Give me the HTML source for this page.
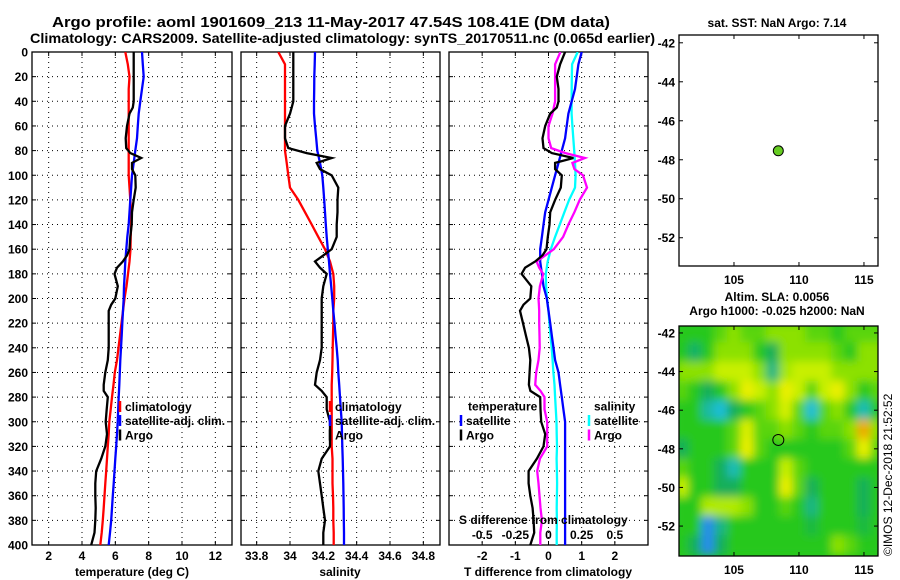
<!DOCTYPE html>
<html><head><meta charset="utf-8"><style>
html,body{margin:0;padding:0;background:#fff;}
svg{display:block;font-family:"Liberation Sans",sans-serif;font-weight:bold;}
</style></head><body>
<svg id="root" width="900" height="580" viewBox="0 0 900 580" xmlns="http://www.w3.org/2000/svg">
<defs>
<filter id="blur" x="-10%" y="-10%" width="120%" height="120%"><feGaussianBlur stdDeviation="4.5"/></filter>
<clipPath id="clipMap2"><rect x="679" y="326" width="199" height="230"/></clipPath>
<clipPath id="clipP1"><rect x="32" y="52" width="200" height="493"/></clipPath>
<clipPath id="clipP2"><rect x="241" y="52" width="199" height="493"/></clipPath>
<clipPath id="clipP3"><rect x="449" y="52" width="199" height="493"/></clipPath>
</defs>
<text x="331" y="27" font-size="14.5" text-anchor="middle" textLength="558" lengthAdjust="spacingAndGlyphs">Argo profile: aoml 1901609_213 11-May-2017 47.54S 108.41E (DM data)</text>
<text x="30" y="43" font-size="14" textLength="625" lengthAdjust="spacingAndGlyphs">Climatology: CARS2009. Satellite-adjusted climatology: synTS_20170511.nc (0.065d earlier)</text>
<text x="777" y="27" font-size="12" text-anchor="middle">sat. SST: NaN Argo: 7.14</text>
<text x="777" y="301" font-size="12" text-anchor="middle">Altim. SLA: 0.0056</text>
<text x="777" y="315" font-size="12" text-anchor="middle">Argo h1000: -0.025 h2000: NaN</text>
<text transform="translate(892,556) rotate(-90)" font-size="12" font-weight="normal">©IMOS 12-Dec-2018 21:52:52</text>
<g id="g"></g>
</svg>
<script>
// ---- data ----
const depth = [0,10,20,30,40,50,60,70,80,90,100,110,120,130,140,150,160,170,180,190,200,210,220,230,240,250,260,270,280,290,300,310,320,330,340,350,360,370,380,390,400];
const tempClim = [6.6,6.75,6.85,6.8,6.8,6.8,6.8,6.8,6.8,6.8,6.8,6.85,6.9,6.95,6.95,6.92,6.91,6.85,6.76,6.67,6.55,6.46,6.37,6.28,6.19,6.1,5.97,5.89,5.8,5.72,5.64,5.6,5.55,5.5,5.45,5.4,5.35,5.3,5.25,5.18,5.1];
const tempSat = [7.6,7.65,7.7,7.6,7.5,7.4,7.35,7.3,7.2,7.1,7.0,6.95,6.9,6.85,6.8,6.72,6.66,6.6,6.56,6.52,6.5,6.46,6.42,6.38,6.34,6.3,6.27,6.24,6.2,6.17,6.14,6.1,6.05,6.0,5.95,5.9,5.85,5.8,5.75,5.68,5.6];
const salClim = [33.93,33.97,33.97,33.97,33.97,33.97,33.97,33.97,33.97,33.98,33.99,34.0,34.05,34.09,34.13,34.17,34.21,34.24,34.26,34.265,34.265,34.26,34.26,34.258,34.256,34.255,34.253,34.25,34.25,34.25,34.25,34.25,34.25,34.255,34.255,34.255,34.258,34.26,34.26,34.262,34.262];
const salSat = [34.15,34.148,34.146,34.145,34.144,34.144,34.15,34.157,34.164,34.18,34.194,34.2,34.205,34.21,34.215,34.22,34.227,34.234,34.24,34.247,34.254,34.26,34.267,34.273,34.28,34.286,34.29,34.295,34.3,34.305,34.31,34.312,34.314,34.316,34.318,34.32,34.321,34.322,34.323,34.324,34.324];
const argoDepth = [0,10,20,30,40,45,50,60,70,78,82,86,90,95,100,110,120,130,140,150,160,165,170,175,180,190,200,205,210,220,230,240,250,260,270,275,280,290,300,310,320,330,340,350,360,370,380,390,400];
const argoTemp = [7.1,7.1,7.1,7.1,7.1,7.05,6.85,6.7,6.62,6.65,6.9,7.55,7.0,7.0,7.2,7.22,7.1,7.0,6.98,6.9,6.85,6.7,6.45,6.1,5.95,6.15,6.0,5.75,5.6,5.6,5.6,5.6,5.55,5.4,5.3,5.3,5.55,5.48,5.42,5.5,5.4,5.15,4.85,4.8,4.8,4.82,4.8,4.75,4.55];
const argoSal = [34.02,34.02,34.02,34.02,34.02,34.01,34.0,33.97,33.97,33.99,34.1,34.25,34.16,34.18,34.25,34.29,34.285,34.285,34.28,34.28,34.25,34.2,34.15,34.18,34.22,34.2,34.19,34.19,34.19,34.19,34.19,34.19,34.18,34.16,34.15,34.19,34.22,34.22,34.24,34.24,34.24,34.19,34.17,34.18,34.19,34.2,34.21,34.2,34.2];
const depthTicks = [0,20,40,60,80,100,120,140,160,180,200,220,240,260,280,300,320,340,360,380,400];
const tempTicks = [2,4,6,8,10,12];
const salTicks = [33.8,34,34.2,34.4,34.6,34.8];
const salTickLabels = ["33.8","34","34.2","34.4","34.6","34.8"];
const diffTicks = [-2,-1,0,1,2];
const sDiffTicks = [-0.5,-0.25,0,0.25,0.5];
const latTicks = [-42,-44,-46,-48,-50,-52];
const lonTicks = [105,110,115];
const argoLon = 108.41, argoLat = -47.54;
const slaLats = [-42,-43,-44,-45,-46,-47,-48,-49,-50,-51,-52,-53];
const slaLons = [101,102,103,104,105,106,107,108,109,110,111,112,113,114,115,116];
const slaGrid = [
[0,0,0,0.5,1,0.5,0.5,1,1,1,0.5,0.5,0,0.5,0.5,0.5],
[0,-0.6,0,1,1,1,0,-0.5,1,1,1,1,0.5,0,1,1],
[1,1,1,1.5,1.5,1.5,1,-0.8,1.2,1.5,1.5,1.5,1,1,1,1],
[0.5,0,-0.5,0,1,2,1.5,1,2,1.5,0.5,1.5,2,1,0,0.5],
[0,0,-1,-1.5,-0.5,0,0.5,1,1.7,0.5,-1.5,0.5,1,0,-1.2,0],
[0,0,0,0,0.5,1.8,0.5,0.5,1,0.5,0,0.5,0.5,1,2.7,1],
[-0.5,0,0,0,0.5,2,0.5,0,0,0,0,0,0,0.5,2,0.5],
[0.5,0,0,-0.5,-1.2,0,0,0,1.5,0.5,0,0,0,0,0,0],
[1.5,0,0,-0.5,-0.5,0,0,0,2,0.5,-0.5,0,0,0,-0.5,0],
[0,0,1.3,1.3,1.3,1,0,0,0.5,0,-0.8,0,0,0,-0.5,0],
[0,0,-2,-0.8,0,0,0,0,0,0,-0.3,0,0,0,-0.3,0],
[0,-0.5,-2,-0.5,0,0,0,0,0,0,0,0,1,0.5,0,0]];

// ---- scales ----
const Y0=52, Y1=545;
const yD = d => Y0 + (d/400)*(Y1-Y0);
const xT = v => 32 + (v-1)/12*200;
const xS = v => 241 + (v-33.706)/(34.9-33.706)*199;
const xDT = v => 449 + (v+3)/6*199;
const xDS = v => xDT(v*4);
const M1 = {x0:679,x1:878,y0:35,y1:266,lonA:100.77,lonB:116.08,latA:-41.6,latB:-53.45};
const M2 = {x0:679,x1:878,y0:326,y1:556,lonA:100.77,lonB:116.08,latA:-41.64,latB:-53.55};
const mx = (m,l) => m.x0 + (l-m.lonA)/(m.lonB-m.lonA)*(m.x1-m.x0);
const my = (m,l) => m.y0 + (l-m.latA)/(m.latB-m.latA)*(m.y1-m.y0);
const interp = (xs,ys,x) => { for(let i=1;i<xs.length;i++){ if(x<=xs[i]){const t=(x-xs[i-1])/(xs[i]-xs[i-1]); return ys[i-1]+t*(ys[i]-ys[i-1]);} } return ys[ys.length-1]; };

const NS='http://www.w3.org/2000/svg';
const root=document.getElementById('g');
function mk(tag,attrs,parent){const e=document.createElementNS(NS,tag);for(const k in attrs)e.setAttribute(k,attrs[k]);(parent||root).appendChild(e);return e;}
function txt(x,y,s,anchor,size,parent){const e=mk('text',{x:x,y:y,'font-size':size||12,'text-anchor':anchor||'middle'},parent);e.textContent=s;return e;}

// ---- heatmap ----
const cmapV=[-2,-1.5,-1,-0.5,0,1,1.5,2,2.5,3];
const cmapC=[[40,140,235],[30,190,215],[30,185,160],[20,175,90],[40,200,30],[140,225,0],[200,240,0],[235,240,0],[240,190,0],[240,140,0]];
function color(v){v=Math.max(-2,Math.min(3,v));for(let i=1;i<cmapV.length;i++){if(v<=cmapV[i]){const t=(v-cmapV[i-1])/(cmapV[i]-cmapV[i-1]);const a=cmapC[i-1],b=cmapC[i];return 'rgb('+a.map((c,j)=>Math.round(c+t*(b[j]-c))).join(',')+')';}}return 'rgb(240,140,0)';}
const hm=mk('g',{'clip-path':'url(#clipMap2)'});


mk('rect',{x:679,y:326,width:199,height:230,fill:color(0)},hm);
const hmb=mk('g',{filter:'url(#blur)'},hm);
slaLats.forEach((la,r)=>slaLons.forEach((lo,c)=>{
  const xa=mx(M2,lo-0.5),xb=mx(M2,lo+0.5),ya=my(M2,la+0.5),yb=my(M2,la-0.5);
  const e=mk('rect',{x:xa-0.3,y:ya-0.3,width:xb-xa+0.6,height:yb-ya+0.6,fill:color(slaGrid[r][c])},hmb);
  
  
}));

// ---- profile panels ----
function panel(x0,x1,name,xs,xticks,xlabels,showY){
  const g=mk('g',{});
  
  
  depthTicks.forEach(d=>{
    if(d>0&&d<400) mk('line',{x1:x0,x2:x1,y1:yD(d),y2:yD(d),stroke:'#000','stroke-dasharray':'1 4'},g);
    mk('line',{x1:x0,x2:x0+4,y1:yD(d),y2:yD(d),stroke:'#000'},g);
    mk('line',{x1:x1-4,x2:x1,y1:yD(d),y2:yD(d),stroke:'#000'},g);
    if(showY){const t=txt(28,yD(d)+4.5,String(d),'end',12,g);}
  });
  xticks.forEach((v,i)=>{
    const x=xs(v);
    mk('line',{x1:x,x2:x,y1:Y0,y2:Y1,stroke:'#000','stroke-dasharray':'1 4'},g);
    mk('line',{x1:x,x2:x,y1:Y1-4,y2:Y1,stroke:'#000'},g);
    mk('line',{x1:x,x2:x,y1:Y0,y2:Y0+4,stroke:'#000'},g);
    if(xlabels){const t=txt(x,560,xlabels[i],'middle',12,g);}
  });
  mk('rect',{x:x0,y:Y0,width:x1-x0,height:Y1-Y0,fill:'none',stroke:'#000','stroke-width':1.3},g);
  return g;
}
panel(32,232,'temperature-panel',xT,tempTicks,tempTicks.map(String),true);
panel(241,440,'salinity-panel',xS,salTicks,salTickLabels,false);
panel(449,648,'difference-panel',xDT,diffTicks,diffTicks.map(String),false);

function line(xs,ys,fx,color,clip,name){
  const d=xs.map((v,i)=>(i?'L':'M')+fx(v).toFixed(1)+','+yD(ys[i]).toFixed(1)).join('');
  const e=mk('path',{d:d,fill:'none',stroke:color,'stroke-width':2.3,'clip-path':'url(#'+clip+')'});
  
  
}
line(tempClim,depth,xT,'#ff0000','clipP1','temp-climatology-line');
line(tempSat,depth,xT,'#0000ff','clipP1','temp-satellite-line');
line(argoTemp,argoDepth,xT,'#000000','clipP1','temp-argo-line');
line(salClim,depth,xS,'#ff0000','clipP2','sal-climatology-line');
line(salSat,depth,xS,'#0000ff','clipP2','sal-satellite-line');
line(argoSal,argoDepth,xS,'#000000','clipP2','sal-argo-line');
const tDiffSat=tempSat.map((v,i)=>v-tempClim[i]);
const sDiffSat=salSat.map((v,i)=>v-salClim[i]);
const tDiffArgo=argoTemp.map((v,i)=>v-interp(depth,tempClim,argoDepth[i]));
const sDiffArgo=argoSal.map((v,i)=>v-interp(depth,salClim,argoDepth[i]));
line(sDiffSat,depth,xDS,'#00ffff','clipP3','sal-diff-satellite-line');
line(tDiffSat,depth,xDT,'#0000ff','clipP3','temp-diff-satellite-line');
line(sDiffArgo,argoDepth,xDS,'#ff00ff','clipP3','sal-diff-argo-line');
line(tDiffArgo,argoDepth,xDT,'#000000','clipP3','temp-diff-argo-line');

// axis labels
let t;
t=txt(132,576,'temperature (deg C)');
t=txt(340,576,'salinity');
t=txt(548,576,'T difference from climatology');
t=txt(459,524,'S difference from climatology','start');
sDiffTicks.forEach(v=>{const e=txt(xDS(v),539,String(v));});

// legends
function legend(x,y,color,label,name){
  const g=mk('g',{});
  
  
  if(color) mk('line',{x1:x,x2:x,y1:y-10,y2:y+1,stroke:color,'stroke-width':2.5},g);
  txt(x+5,y,label,'start',12,g);
}
legend(120,411,'#ff0000','climatology','legend-climatology-temp');
legend(120,425,'#0000ff','satellite-adj. clim.','legend-satellite-temp');
legend(120,439.5,'#000000','Argo','legend-argo-temp');
legend(330,411,'#ff0000','climatology','legend-climatology-sal');
legend(330,425,'#0000ff','satellite-adj. clim.','legend-satellite-sal');
legend(330,439.5,'#000000','Argo','legend-argo-sal');
legend(463,410.5,null,'temperature','legend-temperature-heading');
legend(461,425,'#0000ff','satellite','legend-temp-satellite');
legend(461,439.5,'#000000','Argo','legend-temp-argo');
legend(589,410.5,null,'salinity','legend-salinity-heading');
legend(589,425,'#00ffff','satellite','legend-sal-satellite');
legend(589,439.5,'#ff00ff','Argo','legend-sal-argo');

// maps
function mapFrame(m,name){
  const g=mk('g',{});
  
  
  latTicks.forEach(l=>{const y=my(m,l);
    mk('line',{x1:m.x0,x2:m.x0+4,y1:y,y2:y,stroke:'#000'},g);
    mk('line',{x1:m.x1-4,x2:m.x1,y1:y,y2:y,stroke:'#000'},g);
    const e=txt(675,y+4.5,String(l),'end',12,g);});
  lonTicks.forEach(l=>{const x=mx(m,l);
    mk('line',{x1:x,x2:x,y1:m.y0,y2:m.y0+4,stroke:'#000'},g);
    mk('line',{x1:x,x2:x,y1:m.y1-4,y2:m.y1,stroke:'#000'},g);
    const e=txt(x,m.y1+18,String(l),'middle',12,g);});
  mk('rect',{x:m.x0,y:m.y0,width:m.x1-m.x0,height:m.y1-m.y0,fill:'none',stroke:'#000','stroke-width':1.3},g);
}
mapFrame(M1,'sst-map');
mapFrame(M2,'sla-map');
let c=mk('circle',{cx:mx(M1,argoLon),cy:my(M1,argoLat),r:5,fill:'#66cc22',stroke:'#000','stroke-width':1});


c=mk('circle',{cx:mx(M2,argoLon),cy:my(M2,argoLat),r:5.5,fill:'none',stroke:'#000','stroke-width':1});


</script>
</body></html>
